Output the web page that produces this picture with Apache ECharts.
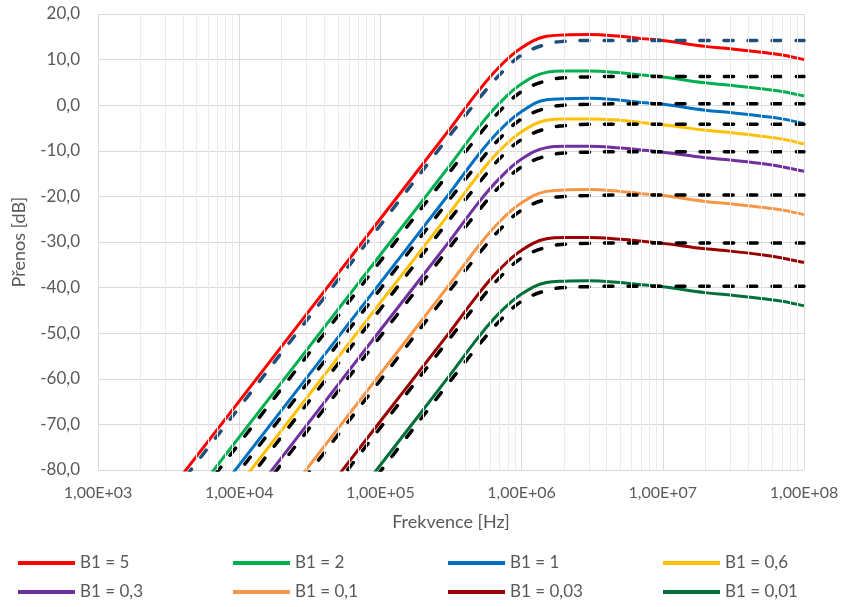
<!DOCTYPE html>
<html>
<head>
<meta charset="utf-8">
<title>Přenos</title>
<script src="https://cdn.jsdelivr.net/npm/echarts@6/dist/echarts.min.js"></script>
<style>
  html, body { margin: 0; padding: 0; background: #ffffff; }
  #chart { width: 845px; height: 607px; }
</style>
</head>
<body>
<div id="chart"></div>
<script>
// Frequency samples [Hz]
const freq = [1e3, 1e5, 3e5, 5e5, 7e5, 1e6, 1.5e6, 2e6, 3e6, 5e6, 7e6, 1e7, 2e7, 3e7, 5e7, 7e7, 1e8];

// Legend names
const names = ['B1 = 5', 'B1 = 2', 'B1 = 1', 'B1 = 0,6', 'B1 = 0,3', 'B1 = 0,1', 'B1 = 0,03', 'B1 = 0,01'];

// Measured transfer [dB] (solid curves)
const meas5   = [-104.9, -24.9, -5.8, 3.3, 8.5, 12.6, 15.1, 15.4, 15.5, 15.1, 14.6, 14.2, 12.9, 12.4, 11.6, 11.0, 10.0];
const meas2   = [-112.8, -32.8, -13.8, -4.7, 0.5, 4.7, 7.2, 7.5, 7.5, 7.1, 6.6, 6.2, 4.9, 4.4, 3.6, 3.0, 2.0];
const meas1   = [-118.9, -38.9, -19.8, -10.7, -5.5, -1.4, 1.2, 1.4, 1.5, 1.1, 0.6, 0.2, -1.1, -1.6, -2.4, -3.0, -4.0];
const meas06  = [-123.3, -43.3, -24.2, -15.1, -9.9, -5.8, -3.3, -3.0, -3.0, -3.3, -3.8, -4.3, -5.5, -6.0, -6.8, -7.4, -8.5];
const meas03  = [-129.3, -49.3, -30.3, -21.2, -16.0, -11.8, -9.3, -9.0, -9.0, -9.4, -9.8, -10.3, -11.5, -12.0, -12.8, -13.5, -14.5];
const meas01  = [-138.9, -58.9, -39.8, -30.7, -25.5, -21.4, -18.9, -18.6, -18.5, -18.9, -19.4, -19.8, -21.1, -21.6, -22.4, -23.0, -24.0];
const meas003 = [-149.3, -69.3, -50.3, -41.2, -36.0, -31.8, -29.3, -29.0, -29.0, -29.4, -29.8, -30.3, -31.5, -32.0, -32.8, -33.5, -34.5];
const meas001 = [-158.9, -78.9, -59.8, -50.7, -45.5, -41.4, -38.9, -38.6, -38.5, -38.9, -39.4, -39.8, -41.1, -41.6, -42.4, -43.0, -44.0];

// Ideal transfer [dB] (dashed curves)
const ideal5   = [-106.3, -26.3, -7.2, 1.5, 6.7, 11.0, 13.4, 14.0, 14.2, 14.2, 14.2, 14.2, 14.2, 14.2, 14.2, 14.2, 14.2];
const ideal2   = [-114.2, -34.2, -15.2, -6.5, -1.3, 3.0, 5.4, 6.0, 6.2, 6.3, 6.3, 6.3, 6.3, 6.3, 6.3, 6.3, 6.3];
const ideal1   = [-120.3, -40.3, -21.2, -12.5, -7.3, -3.0, -0.6, 0.0, 0.2, 0.3, 0.3, 0.3, 0.3, 0.3, 0.3, 0.3, 0.3];
const ideal06  = [-124.7, -44.7, -25.6, -17.0, -11.7, -7.5, -5.1, -4.5, -4.2, -4.2, -4.2, -4.2, -4.2, -4.2, -4.2, -4.2, -4.2];
const ideal03  = [-130.7, -50.7, -31.7, -23.0, -17.8, -13.5, -11.1, -10.5, -10.3, -10.2, -10.2, -10.2, -10.2, -10.2, -10.2, -10.2, -10.2];
const ideal01  = [-140.3, -60.3, -41.2, -32.5, -27.3, -23.0, -20.6, -20.0, -19.8, -19.7, -19.7, -19.7, -19.7, -19.7, -19.7, -19.7, -19.7];
const ideal003 = [-150.7, -70.7, -51.7, -43.0, -37.8, -33.5, -31.1, -30.5, -30.3, -30.2, -30.2, -30.2, -30.2, -30.2, -30.2, -30.2, -30.2];
const ideal001 = [-160.3, -80.3, -61.2, -52.5, -47.3, -43.0, -40.6, -40.0, -39.8, -39.7, -39.7, -39.7, -39.7, -39.7, -39.7, -39.7, -39.7];

// Axis tick labels
const xTickLabels = ['1,00E+03', '1,00E+04', '1,00E+05', '1,00E+06', '1,00E+07', '1,00E+08'];

const measured = [meas5, meas2, meas1, meas06, meas03, meas01, meas003, meas001];
const ideal = [ideal5, ideal2, ideal1, ideal06, ideal03, ideal01, ideal003, ideal001];
const colors = ['#FF0000', '#00B050', '#0070C0', '#FFC000', '#7030A0', '#F79646', '#9A0000', '#00703A'];
const dashColors = ['#1F4E79', '#000000', '#000000', '#000000', '#000000', '#000000', '#000000', '#000000'];

const FONT = 'Lato, "Open Sans", sans-serif';
const TXT = '#595959';

const zip = (vals) => freq.map((f, i) => [f, vals[i]]);

// Minor vertical gridlines at 2..9 × each decade
const minorLines = [];
for (let d = 3; d < 8; d++) {
  for (let k = 2; k <= 9; k++) minorLines.push({ xAxis: k * Math.pow(10, d) });
}

const series = [];
series.push({
  type: 'line',
  name: 'minor-grid',
  data: [],
  silent: true,
  z: 0,
  markLine: {
    silent: true,
    symbol: 'none',
    animation: false,
    label: { show: false },
    lineStyle: { color: '#ECECEC', width: 1, type: 'solid' },
    data: minorLines
  }
});

names.forEach((n, i) => {
  series.push({
    type: 'line',
    name: n,
    data: zip(measured[i]),
    color: colors[i],
    showSymbol: false,
    symbol: 'none',
    smooth: 0.4,
    clip: true,
    z: 3,
    lineStyle: { width: 3, color: colors[i] }
  });
});
names.forEach((n, i) => {
  series.push({
    type: 'line',
    name: n + ' ideal',
    data: zip(ideal[i]),
    color: dashColors[i],
    showSymbol: false,
    symbol: 'none',
    smooth: 0.4,
    clip: true,
    z: 4,
    lineStyle: { width: 3.5, color: dashColors[i], type: [9, 15], cap: 'round' }
  });
});

// One legend per entry so the entries sit in a fixed 4-column layout
const legends = names.map((n, i) => ({
  data: [n],
  left: 18 + 215 * (i % 4),
  top: i < 4 ? 553 : 582,
  padding: 0,
  icon: 'rect',
  itemWidth: 57,
  itemHeight: 4,
  selectedMode: false,
  textStyle: { color: TXT, fontFamily: FONT, fontSize: 17, lineHeight: 20 }
}));

const chart = echarts.init(document.getElementById('chart'), null, { renderer: 'canvas' });
chart.setOption({
  animation: false,
  backgroundColor: '#ffffff',
  grid: { left: 98, right: 41, top: 14, bottom: 137, containLabel: false },
  legend: legends,
  xAxis: {
    type: 'log',
    logBase: 10,
    min: 1e3,
    max: 1e8,
    name: 'Frekvence [Hz]',
    nameLocation: 'middle',
    nameGap: 43,
    nameTextStyle: { color: TXT, fontFamily: FONT, fontSize: 18 },
    axisLine: { show: false },
    axisTick: { show: false },
    axisLabel: {
      color: TXT,
      fontFamily: FONT,
      fontSize: 16,
      margin: 15,
      formatter: (v) => xTickLabels[Math.round(Math.log10(v)) - 3]
    },
    splitLine: { show: true, lineStyle: { color: '#D9D9D9', width: 1 } }
  },
  yAxis: {
    type: 'value',
    min: -80,
    max: 20,
    interval: 10,
    name: 'Přenos [dB]',
    nameLocation: 'middle',
    nameGap: 70,
    nameTextStyle: { color: TXT, fontFamily: FONT, fontSize: 18 },
    axisLine: { show: false },
    axisTick: { show: false },
    axisLabel: {
      color: TXT,
      fontFamily: FONT,
      fontSize: 17,
      margin: 18,
      formatter: (v) => v.toFixed(1).replace('.', ',')
    },
    splitLine: { show: true, lineStyle: { color: '#D9D9D9', width: 1 } }
  },
  series: series
});
</script>
</body>
</html>
